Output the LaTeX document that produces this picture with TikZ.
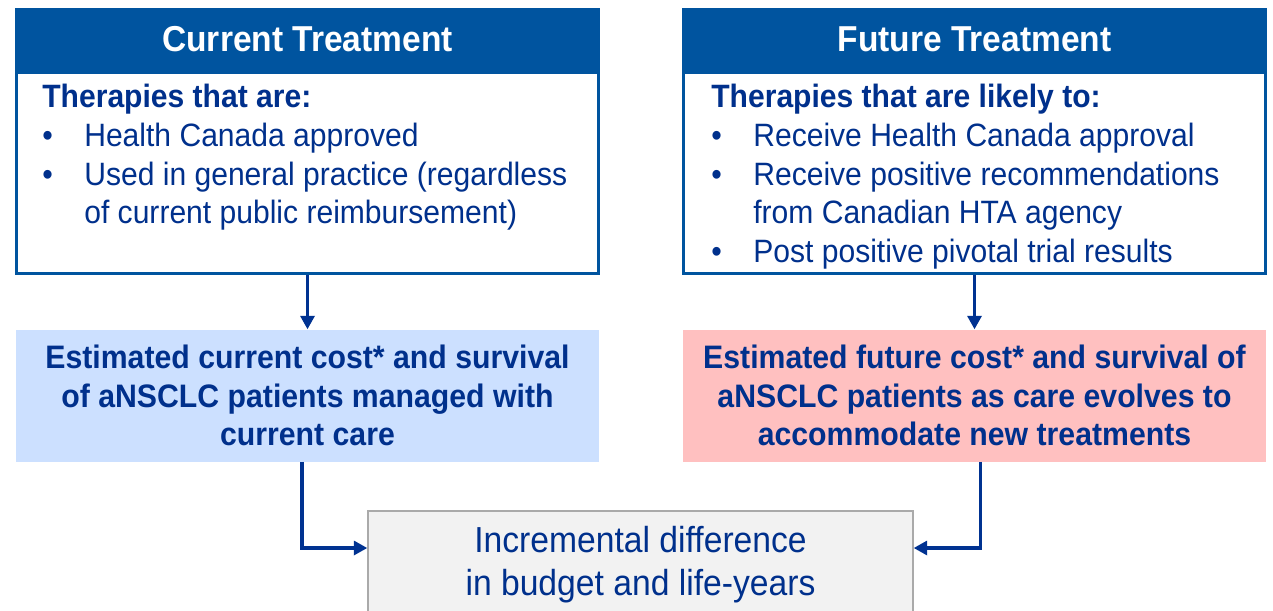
\documentclass[tikz,border=0pt]{standalone}
\usepackage{fontspec}
\setmainfont{Liberation Sans}[FakeStretch=0.93]
\usepackage{xcolor}
\usepackage{tikz}
\usetikzlibrary{arrows.meta,positioning}
\definecolor{hdblue}{RGB}{0,84,159}
\definecolor{txblue}{RGB}{0,48,140}
\definecolor{arblue}{RGB}{0,50,145}
\definecolor{curfill}{RGB}{204,224,255}
\definecolor{futfill}{RGB}{255,192,192}
\definecolor{incfill}{RGB}{242,242,242}
\definecolor{incline}{RGB}{170,170,170}
\newcommand{\bul}{\makebox[0.84cm][l]{\textbullet}}
\newcommand{\ind}{\hspace*{0.84cm}}

\begin{document}
\begin{tikzpicture}[x=0.02cm, y=-0.02cm, node distance=1.08cm, head/.style={fill=hdblue, minimum width=11.7cm, minimum height=1.26cm, inner sep=0pt, text=white, font=\fontsize{20.5}{24}\selectfont\bfseries}, body/.style={draw=hdblue, line width=0.06cm, fill=white, minimum width=11.64cm, minimum height=4.02cm, inner sep=0pt}, list/.style={anchor=north west, inner sep=0pt, align=left, text=txblue, font=\fontsize{18.4}{22}\selectfont}, cost/.style={minimum width=11.66cm, minimum height=2.64cm, inner sep=0pt, align=center, text=txblue, font=\fontsize{18.5}{21.9}\selectfont\bfseries}, inc/.style={draw=incline, line width=0.03cm, fill=incfill, minimum width=10.9cm, minimum height=2.16cm, align=center, text=txblue, font=\fontsize{20.6}{24.5}\selectfont}, arrow/.style={-{Triangle[length=0.27cm,width=0.28cm]}, line width=0.065cm, arblue}]
\clip (0,0) rectangle (1273,611);
\node[head] (curH) at (307.5,39.5) {Current Treatment};
\node[body, below=0pt of curH] (curB) {};
\node[list] (curL) at (42,84) {\textbf{Therapies that are:}\\\bul Health Canada approved\\\bul Used in general practice (regardless\\\ind of current public reimbursement)};
\node[cost, fill=curfill, below=of curB] (curC) {Estimated current cost* and survival\\of aNSCLC patients managed with\\current care};
\node[head] (futH) at (974.5,39.5) {Future Treatment};
\node[body, below=0pt of futH] (futB) {};
\node[list] (futL) at (711,84) {\textbf{Therapies that are likely to:}\\\bul Receive Health Canada approval\\\bul Receive positive recommendations\\\ind from Canadian HTA agency\\\bul Post positive pivotal trial results};
\node[cost, fill=futfill, below=of futB] (futC) {Estimated future cost* and survival of\\aNSCLC patients as care evolves to\\accommodate new treatments};
\node[inc] (inc) at (640.5,565) {Incremental difference\\in budget and life-years};
\draw[arrow] (curB.south) -- (curB.south |- curC.north); \draw[arrow] (futB.south) -- (futB.south |- futC.north);
\draw[arrow] ([xshift=-0.11cm]curC.south) |- ([yshift=0.34cm]inc.west); \draw[arrow] ([xshift=0.12cm]futC.south) |- ([yshift=0.34cm]inc.east);
\end{tikzpicture}
\end{document}
